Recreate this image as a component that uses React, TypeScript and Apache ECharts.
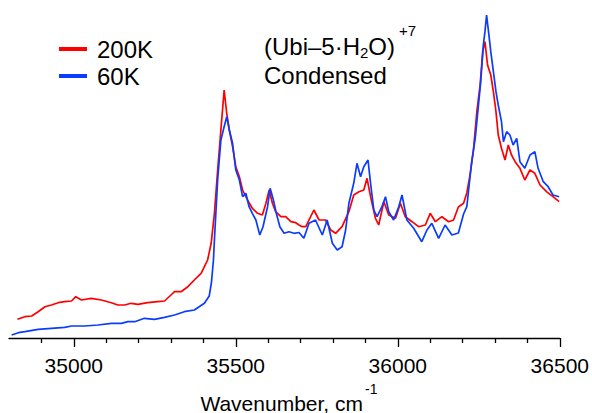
import React, { useEffect, useRef } from "react";
import * as echarts from "echarts";

// Wavenumber (cm^-1), intensity (arb. units)
const red200K: number[][] = [
  [34826, 18.7], [34849, 21.3], [34870, 22], [34890, 26.3], [34911, 31.3], [34931, 33], [34952, 35.3],
  [34972, 36.3], [34993, 37], [35006, 41.3], [35024, 38], [35054, 39.7], [35085, 38], [35116, 35.3],
  [35136, 33], [35157, 33], [35177, 34.7], [35198, 33.7], [35228, 35.3], [35259, 36.3], [35280, 37],
  [35300, 43], [35311, 46.3], [35331, 46.3], [35352, 51.3], [35372, 58], [35393, 64.7], [35403, 71.3],
  [35413, 78], [35424, 94.7], [35434, 124.7], [35444, 168], [35454, 208], [35464, 248], [35472, 224.7],
  [35480, 208], [35490, 191.3], [35500, 171.3], [35511, 161.3], [35521, 148], [35536, 138], [35551, 129.7],
  [35567, 124.7], [35582, 123], [35593, 134.7], [35603, 148], [35613, 134.7], [35623, 126.3], [35639, 121.3],
  [35654, 121.3], [35670, 116.3], [35685, 115.3], [35695, 113], [35705, 111.3], [35716, 111.3], [35741, 128],
  [35757, 118], [35777, 118], [35793, 108], [35808, 104.7], [35828, 111.3], [35849, 126.3], [35864, 143],
  [35880, 146.3], [35895, 148], [35905, 159.7], [35916, 141.3], [35931, 119.7], [35941, 113], [35957, 136.3],
  [35972, 123], [35993, 119.7], [36008, 134.7], [36023, 121.3], [36044, 116.3], [36064, 111.3], [36085, 113],
  [36100, 124.7], [36116, 116.3], [36136, 121.3], [36157, 116.3], [36172, 118], [36187, 131], [36203, 134.7],
  [36213, 145], [36223, 163], [36233, 186.3], [36244, 226.3], [36254, 253], [36262, 286.3], [36269, 296.3],
  [36277, 273], [36287, 263], [36295, 246.3], [36303, 226.3], [36310, 203], [36320, 189.7], [36331, 178],
  [36341, 193], [36351, 183], [36362, 176.3], [36377, 169.7], [36392, 158], [36408, 168], [36423, 164.7],
  [36439, 153], [36459, 146.3], [36479, 141.3], [36498, 136.3],
];

const blue60K: number[][] = [
  [34808, 3], [34829, 5.3], [34849, 6.3], [34890, 8.7], [34931, 9.7], [34972, 10.7], [34993, 12],
  [35034, 12], [35075, 13], [35116, 14.7], [35147, 14.7], [35167, 16.3], [35188, 16.3], [35218, 19.7],
  [35249, 18.7], [35280, 20.7], [35311, 23], [35341, 26.3], [35372, 28], [35403, 34.7], [35418, 42],
  [35425, 56], [35431, 78], [35434, 98], [35444, 158], [35454, 198], [35464, 211.3], [35472, 221.3],
  [35480, 208], [35490, 194.7], [35500, 168], [35511, 158], [35521, 141.3], [35531, 144.7], [35541, 131.3],
  [35551, 124.7], [35562, 118], [35574, 103], [35584, 111.3], [35598, 131.3], [35606, 149.7], [35616, 138],
  [35625, 124.7], [35636, 111.3], [35649, 104.7], [35664, 106.3], [35680, 104.7], [35695, 105.5], [35710, 99.7],
  [35726, 114.7], [35746, 118], [35767, 103], [35782, 118], [35798, 94.7], [35813, 88], [35828, 91.3],
  [35839, 108], [35849, 134.7], [35864, 154.7], [35874, 174.7], [35885, 161.3], [35895, 171.3], [35908, 178],
  [35916, 154.7], [35926, 128], [35936, 121.3], [35951, 131.3], [35962, 141.3], [35972, 126.3], [35987, 118],
  [36003, 131.3], [36013, 143], [36028, 118], [36049, 109.7], [36074, 96.3], [36090, 108], [36105, 114.7],
  [36126, 99.7], [36146, 113], [36167, 103], [36187, 105], [36203, 124], [36213, 131.3], [36218, 146.3],
  [36228, 176.3], [36239, 199.7], [36249, 233], [36256, 256.3], [36264, 293], [36269, 306.3], [36274, 323],
  [36280, 306.3], [36287, 286.3], [36295, 266.3], [36303, 246.3], [36310, 233], [36320, 216.3], [36326, 196.3],
  [36336, 206.3], [36346, 203], [36356, 193], [36367, 199.7], [36377, 176.3], [36392, 169.7], [36408, 183],
  [36423, 186.3], [36433, 169.7], [36449, 156.3], [36464, 151.3], [36479, 143], [36498, 141.3],
];

const seriesNames = ["200K", "60K"];
const majorTicks = [35000, 35500, 36000, 36500];
const minorTicks = [
  34900, 35100, 35200, 35300, 35400, 35600, 35700, 35800, 35900, 36100, 36200, 36300, 36400,
];
const xMin = 34800;
const xMax = 36500;

const FONT = "'Liberation Sans', Arial, sans-serif";

export default function App() {
  const ref = useRef<HTMLDivElement>(null);

  useEffect(() => {
    if (!ref.current) return;
    const chart = echarts.init(ref.current, null, { renderer: "svg" });
    chart.setOption({
      animation: false,
      backgroundColor: "#ffffff",
      grid: { left: 9, right: 30, top: 8, bottom: 75, containLabel: false },
      legend: {
        data: seriesNames,
        orient: "vertical",
        left: 59,
        top: 37,
        padding: 0,
        icon: "rect",
        itemWidth: 28,
        itemHeight: 4,
        itemGap: 3,
        textStyle: { fontSize: 24, color: "#000", fontFamily: FONT, padding: [0, 0, 0, 5] },
      },
      xAxis: [
        {
          type: "value",
          min: xMin,
          max: xMax,
          splitLine: { show: false },
          axisLine: { show: true, onZero: false, lineStyle: { color: "#000", width: 1.3 } },
          axisTick: {
            show: true,
            customValues: majorTicks,
            length: 9,
            lineStyle: { color: "#000", width: 1.3 },
          },
          axisLabel: {
            customValues: majorTicks,
            formatter: (v: number) => String(v),
            fontSize: 21,
            color: "#000",
            fontFamily: FONT,
            margin: 17,
          },
        },
        {
          type: "value",
          min: xMin,
          max: xMax,
          position: "bottom",
          splitLine: { show: false },
          axisLine: { show: false },
          axisLabel: { show: false },
          axisTick: {
            show: true,
            customValues: minorTicks,
            length: 5,
            lineStyle: { color: "#000", width: 1.3 },
          },
        },
      ],
      yAxis: { type: "value", min: 0, max: 330, show: false },
      series: [
        {
          name: seriesNames[0],
          type: "line",
          data: red200K,
          showSymbol: false,
          color: "#ff0000",
          lineStyle: { color: "#ff0000", width: 1.7 },
        },
        {
          name: seriesNames[1],
          type: "line",
          data: blue60K,
          showSymbol: false,
          color: "#0a3cff",
          lineStyle: { color: "#0a3cff", width: 1.7 },
        },
      ],
      graphic: [
        {
          type: "text",
          left: 264,
          top: 34,
          style: {
            text: "{m|(Ubi–5·H}{s|2}{m|O)}",
            fill: "#000",
            rich: {
              m: { fontSize: 24, fontFamily: FONT, lineHeight: 28, verticalAlign: "middle", fill: "#000" },
              s: { fontSize: 15, fontFamily: FONT, lineHeight: 15, verticalAlign: "bottom", fill: "#000" },
            },
          },
        },
        {
          type: "text",
          x: 399,
          y: 30,
          style: { text: "+7", fontSize: 15, fontFamily: FONT, fill: "#000", verticalAlign: "middle" },
        },
        {
          type: "text",
          x: 264,
          y: 75,
          style: { text: "Condensed", fontSize: 24, fontFamily: FONT, fill: "#000", verticalAlign: "middle" },
        },
        {
          type: "text",
          x: 363,
          y: 403,
          style: {
            text: "Wavenumber, cm",
            fontSize: 21,
            fontFamily: FONT,
            fill: "#000",
            align: "right",
            verticalAlign: "middle",
          },
        },
        {
          type: "text",
          x: 365,
          y: 389,
          style: { text: "-1", fontSize: 14, fontFamily: FONT, fill: "#000", verticalAlign: "middle" },
        },
      ],
    });
    return () => chart.dispose();
  }, []);

  return (
    <div
      ref={ref}
      style={{ position: "absolute", left: 0, top: 0, width: 592, height: 413 }}
    />
  );
}
